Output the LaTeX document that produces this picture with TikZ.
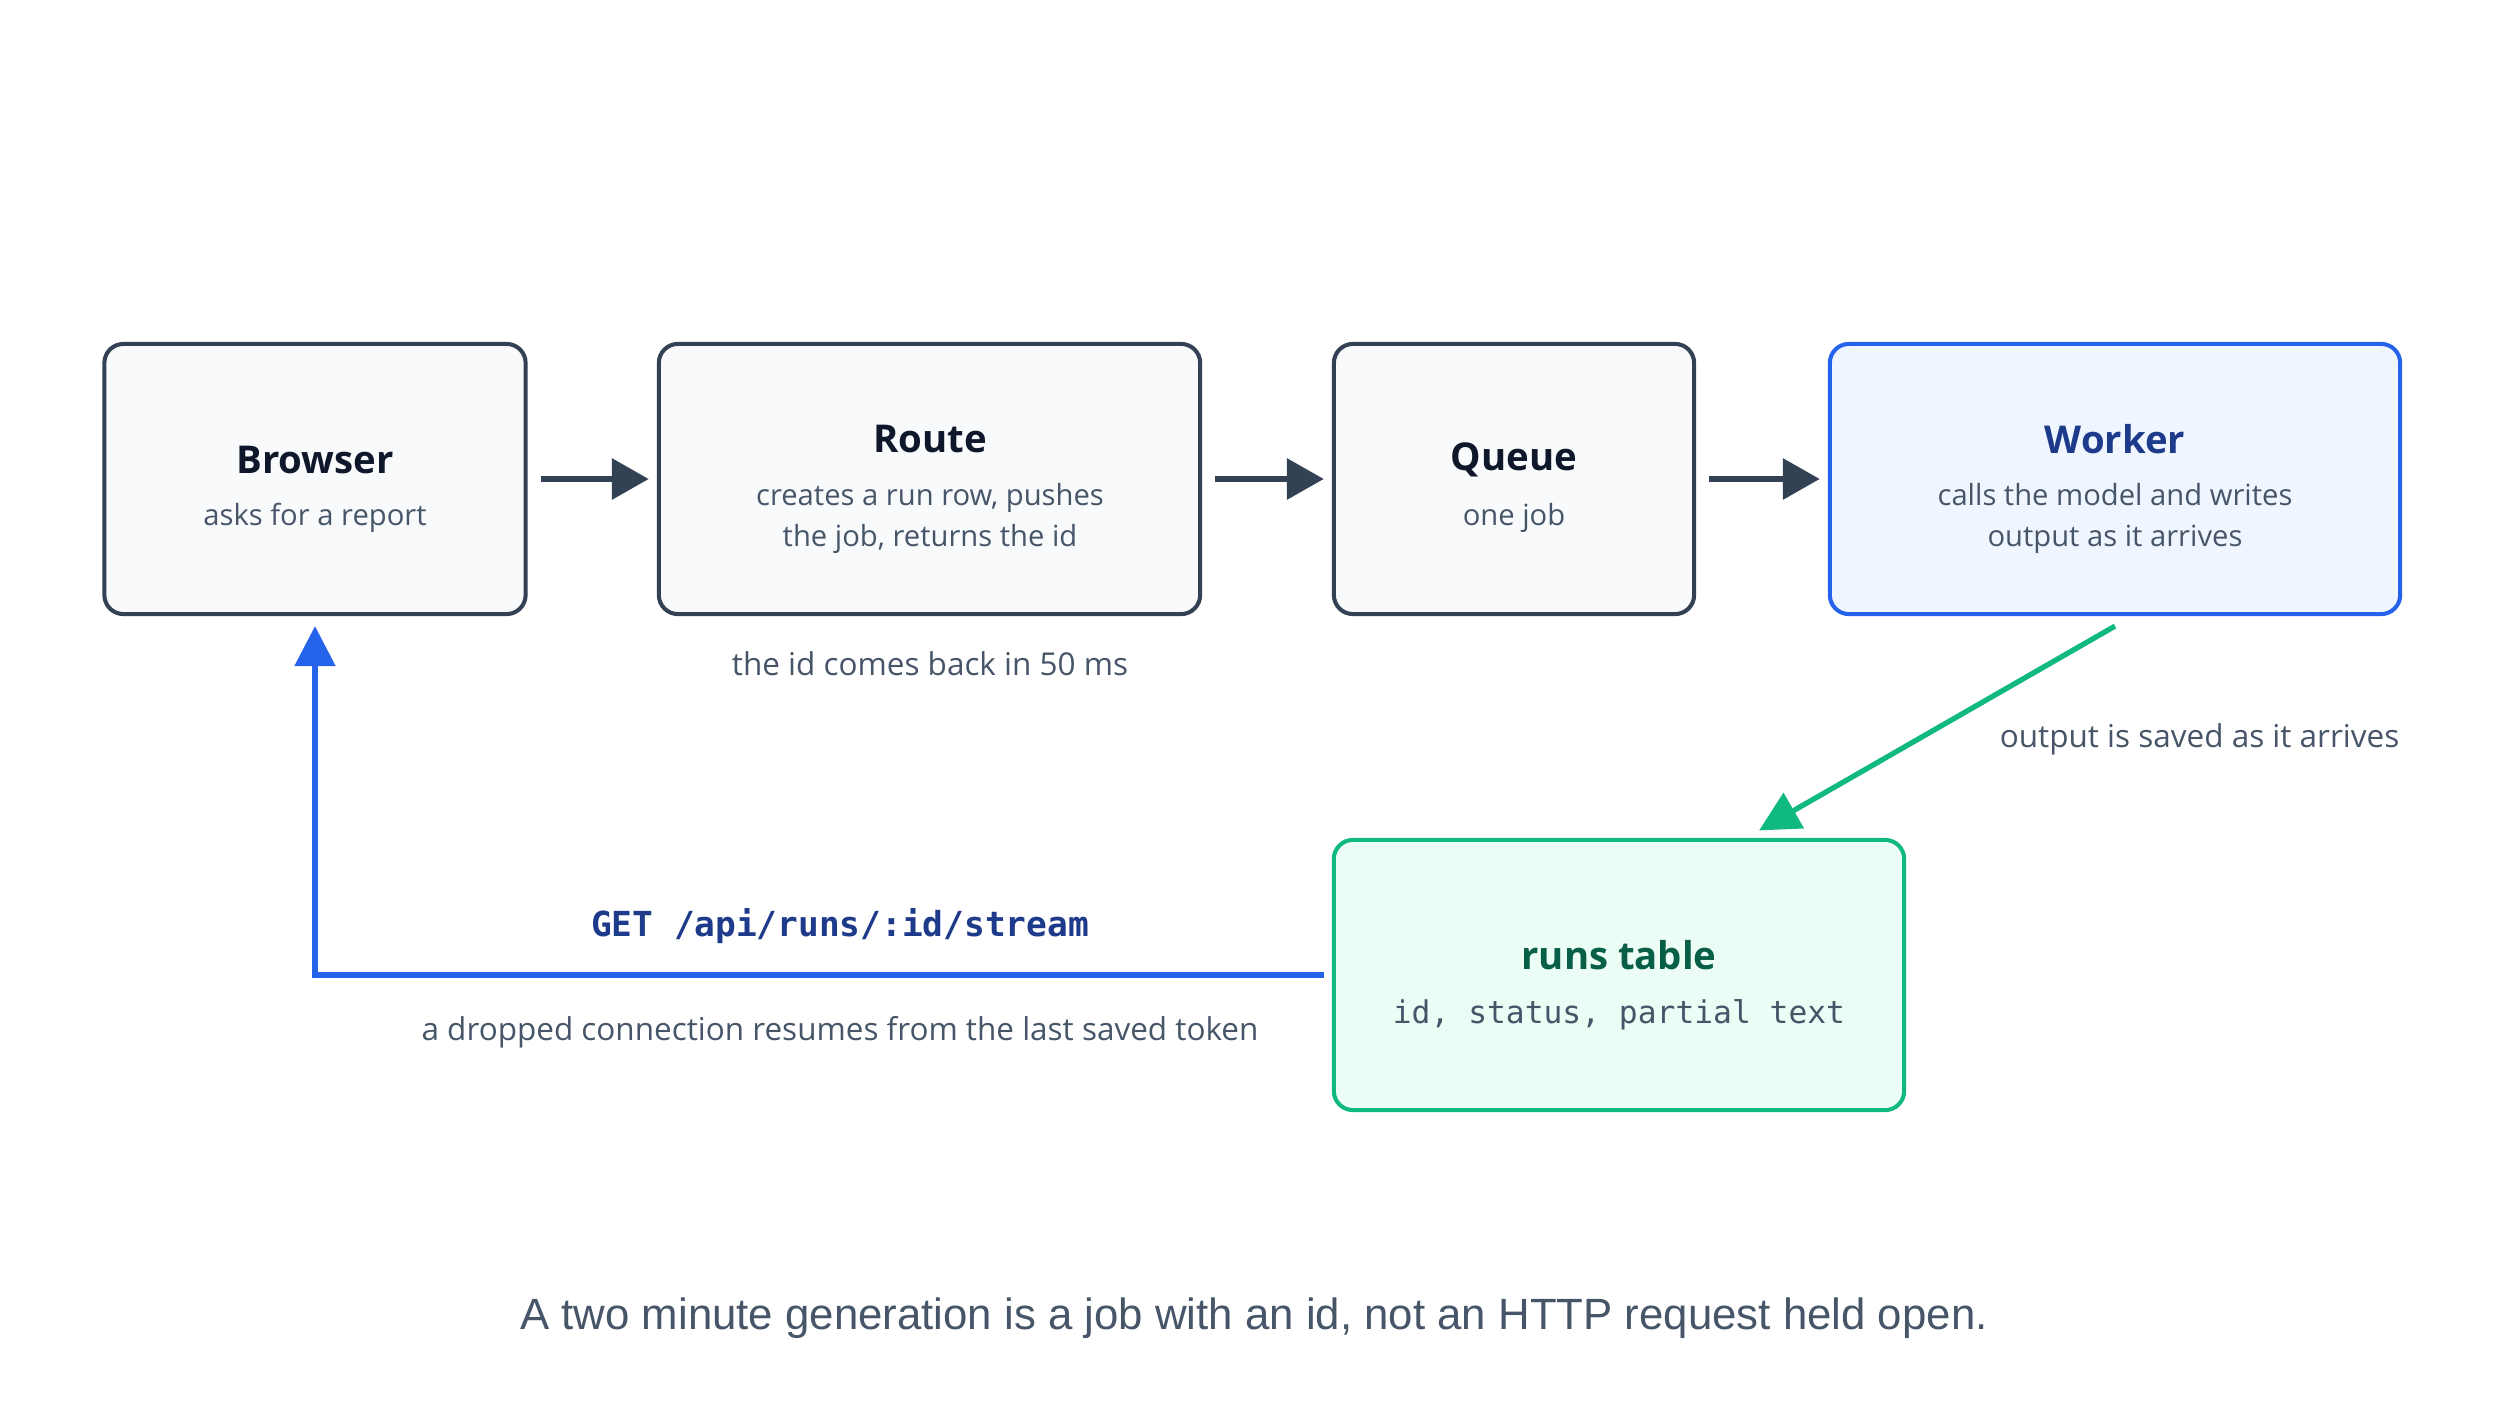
\documentclass[tikz,border=0pt]{standalone}
\usepackage{fontspec}
\setmainfont{Open Sans}
\newfontfamily\capfont{Liberation Sans}
\setmonofont{DejaVu Sans Mono}
\usetikzlibrary{arrows.meta}
\definecolor{slate}{HTML}{334155}
\definecolor{boxfill}{HTML}{F8FAFC}
\definecolor{titlec}{HTML}{0F172A}
\definecolor{subc}{HTML}{475569}
\definecolor{blueline}{HTML}{2563EB}
\definecolor{bluefill}{HTML}{EFF6FF}
\definecolor{bluetitle}{HTML}{1E3A8A}
\definecolor{greenline}{HTML}{10B981}
\definecolor{greenfill}{HTML}{ECFDF5}
\definecolor{greentitle}{HTML}{065F46}
\tikzset{
  box/.style={draw=slate, fill=boxfill, line width=1.15pt, rounded corners=0.19cm, inner sep=0pt},
  wbox/.style={box, draw=blueline, fill=bluefill},
  gbox/.style={box, draw=greenline, fill=greenfill},
  ttl/.style={font=\fontsize{10.9}{13}\selectfont\bfseries, text=titlec, inner sep=0pt},
  sub/.style={font=\fontsize{8.3}{11.7}\selectfont, text=subc, align=center, inner sep=0pt},
  lbl/.style={font=\fontsize{8.95}{11.7}\selectfont, text=subc, inner sep=0pt},
  flow/.style={draw=slate, line width=1.8pt, -{Triangle[length=0.37cm,width=0.40cm]}},
  bflow/.style={draw=blueline, line width=1.5pt, -{Triangle[length=0.40cm,width=0.40cm]}},
  gflow/.style={draw=greenline, line width=1.5pt, -{Triangle[length=0.40cm,width=0.40cm]}},
}
\begin{document}
\begin{tikzpicture}[x=0.01cm,y=-0.01cm]
\useasboundingbox[fill=white] (0,0) rectangle (2508,1412);

\node[box, minimum width=4.21cm, minimum height=2.70cm] (browser) at (315,479) {};
\node[box, minimum width=5.41cm, minimum height=2.70cm] (route) at (929.5,479) {};
\node[box, minimum width=3.60cm, minimum height=2.70cm] (queue) at (1514,479) {};
\node[wbox, minimum width=5.70cm, minimum height=2.70cm] (worker) at (2115,479) {};
\node[gbox, minimum width=5.70cm, minimum height=2.70cm] (runs) at (1619,975) {};

\node[ttl] (browserT) at (315,460) {Browser};
\node[sub] (browserS) at (315,518) {asks for a report};
\node[ttl] (routeT) at (930,439) {Route};
\node[sub] (routeS) at (930,518) {creates a run row, pushes\\the job, returns the id};
\node[ttl] (queueT) at (1514,460) {Queue};
\node[sub] (queueS) at (1514,518) {one job};
\node[ttl, text=bluetitle] (workerT) at (2115,439) {Worker};
\node[sub] (workerS) at (2115,518) {calls the model and writes\\output as it arrives};
\node[ttl, text=greentitle] (runsT) at (1619,955) {runs table};
\node[sub, font=\fontsize{8.9}{11}\selectfont\ttfamily] (runsS) at (1619,1015) {id, status, partial text};

\draw[flow, shorten <=0.13cm, shorten >=0.08cm] (browser) -- (route);
\draw[flow, shorten <=0.13cm, shorten >=0.08cm] (route) -- (queue);
\draw[flow, shorten <=0.13cm, shorten >=0.08cm] (queue) -- (worker);
\draw[gflow, shorten >=0.15cm] ([yshift=-0.10cm]worker.south) -- ([xshift=1.27cm]runs.north);
\draw[bflow, shorten <=0.08cm, shorten >=0.10cm] (runs.west) -| (browser.south);

\node[lbl] (lid) at (930,664) {the id comes back in 50 ms};
\node[lbl, anchor=east] (lsave) at (2400,739) {output is saved as it arrives};
\node[font=\fontsize{9.8}{12}\selectfont\ttfamily\bfseries, text=bluetitle, inner sep=0pt] (lget) at (840,926) {GET /api/runs/:id/stream};
\node[lbl] (ldrop) at (840,1032) {a dropped connection resumes from the last saved token};
\node[font=\fontsize{12.45}{14}\selectfont\capfont, text=subc, inner sep=0pt] (cap) at (1254,1318) {A two minute generation is a job with an id, not an HTTP request held open.};
\end{tikzpicture}
\end{document}
